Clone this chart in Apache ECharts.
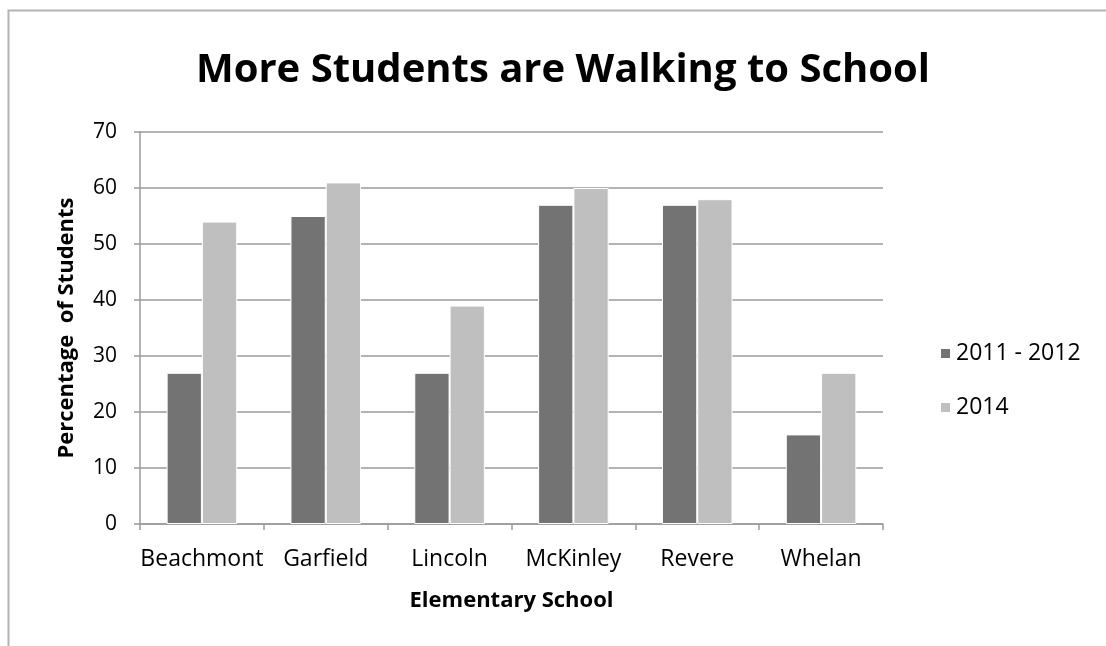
<!DOCTYPE html>
<html><head><meta charset="utf-8">
<script src="https://cdn.jsdelivr.net/npm/echarts@6/dist/echarts.min.js"></script>
<style>html,body{margin:0;padding:0;background:#fff}#c{width:1106px;height:646px}</style>
</head><body><div id="c"></div>
<script>
const categories = ['Beachmont','Garfield','Lincoln','McKinley','Revere','Whelan'];
const series2011 = [27, 55, 27, 57, 57, 16];
const series2014 = [54, 61, 39, 60, 58, 27];
const yTicks = [0,10,20,30,40,50,60,70];
const FONT = '"Open Sans", sans-serif';
const chart = echarts.init(document.getElementById('c'));
chart.setOption({
  animation:false,
  backgroundColor:'#fff',
  textStyle:{fontFamily:FONT},
  graphic:[{type:'rect',shape:{x:8.5,y:10.5,width:1300,height:1000},style:{fill:'none',stroke:'#b3b3b3',lineWidth:2},silent:true}],
  title:{text:'More Students are Walking to School',top:51,padding:0,
    left:563,textAlign:'center',
    textStyle:{fontFamily:FONT,fontWeight:'bold',fontSize:40,color:'#000'}},
  legend:{orient:'vertical',left:934,top:337,itemWidth:11,itemHeight:11,itemGap:31,icon:'rect',
    textStyle:{fontFamily:FONT,fontSize:23,color:'#000'},data:['2011 - 2012','2014']},
  grid:{left:140,right:223,top:132,bottom:122},
  xAxis:{type:'category',data:categories,
    axisLine:{lineStyle:{color:'#9a9a9a',width:1.5}},
    axisTick:{show:true,length:6,lineStyle:{color:'#9a9a9a',width:1.5}},
    axisLabel:{fontFamily:FONT,fontSize:23,color:'#000',margin:24,interval:0},
    name:'Elementary School',nameLocation:'middle',nameGap:66,nameMoveOverlap:false,
    nameTextStyle:{fontFamily:FONT,fontWeight:'bold',fontSize:22,color:'#000'}},
  yAxis:{type:'value',min:0,max:70,interval:10,
    axisLine:{show:true,lineStyle:{color:'#9a9a9a',width:1.5}},
    axisTick:{show:true,length:6,lineStyle:{color:'#9a9a9a',width:1.5}},
    splitLine:{lineStyle:{color:'#9a9a9a',width:1.5}},
    axisLabel:{fontFamily:FONT,fontSize:21,color:'#000',margin:23,
      formatter:v=>yTicks.includes(v)?String(v):''},
    name:'Percentage  of Students',nameLocation:'middle',nameGap:62,nameMoveOverlap:false,
    nameTextStyle:{fontFamily:FONT,fontWeight:'bold',fontSize:22,color:'#000'}},
  series:[
    {name:'2011 - 2012',type:'bar',data:series2011,barGap:'0%',barCategoryGap:'43%',
      itemStyle:{color:'#737373',borderColor:'#fff',borderWidth:1}},
    {name:'2014',type:'bar',data:series2014,
      itemStyle:{color:'#bfbfbf',borderColor:'#fff',borderWidth:1}}
  ]
});
</script></body></html>
